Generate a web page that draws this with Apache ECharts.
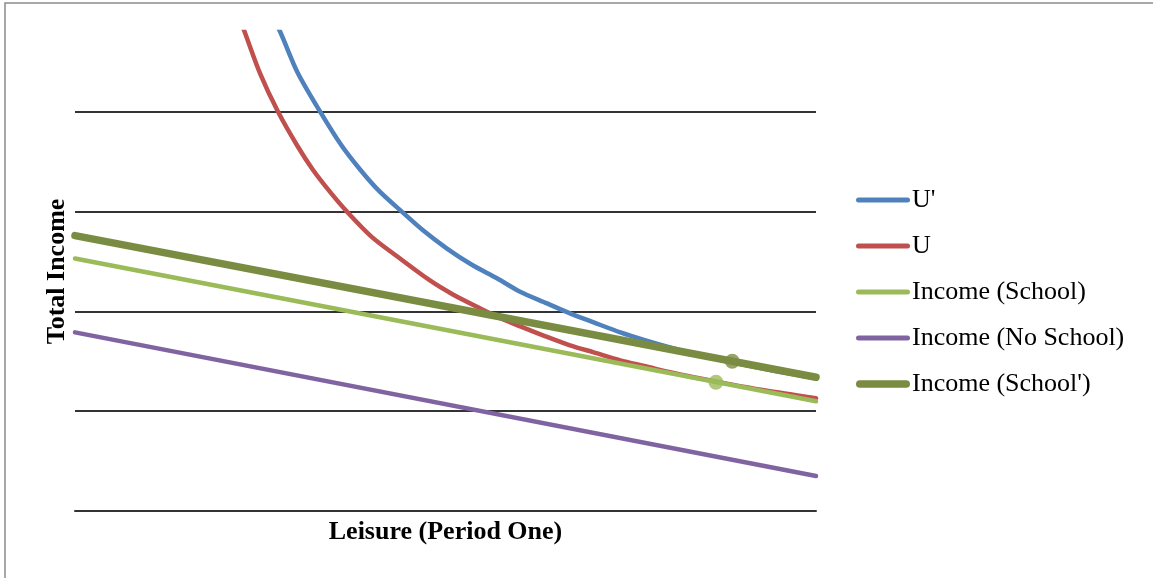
<!DOCTYPE html>
<html>
<head>
<meta charset="utf-8">
<title>Leisure vs Total Income</title>
<script src="https://cdn.jsdelivr.net/npm/echarts@6/dist/echarts.min.js"></script>
<style>
  html, body { margin: 0; padding: 0; background: #ffffff; }
  #chart { width: 1153px; height: 578px; }
</style>
</head>
<body>
<div id="chart"></div>
<script>
// Indifference curves and budget lines: [leisure, total income]
const uPrime = [
  [2.63, 5.00], [2.77, 4.80], [3.00, 4.40], [3.31, 4.00], [3.60, 3.66],
  [3.85, 3.42], [4.10, 3.21], [4.41, 3.00], [4.70, 2.81], [5.02, 2.63],
  [5.35, 2.47], [5.70, 2.33], [6.00, 2.20], [6.37, 2.08], [6.68, 1.98],
  [7.00, 1.89], [7.36, 1.79], [7.70, 1.71], [8.03, 1.64], [8.45, 1.56],
  [8.87, 1.49], [9.40, 1.41], [10.00, 1.33]
];
const u = [
  [2.19, 5.00], [2.29, 4.80], [2.50, 4.38], [2.74, 4.00], [3.00, 3.66],
  [3.21, 3.42], [3.45, 3.19], [3.67, 3.00], [4.00, 2.75], [4.35, 2.55],
  [4.79, 2.31], [5.10, 2.17], [5.47, 2.03], [5.75, 1.93], [6.01, 1.85],
  [6.35, 1.75], [6.68, 1.66], [7.00, 1.59], [7.36, 1.51], [7.70, 1.45],
  [8.03, 1.39], [8.35, 1.34], [8.70, 1.29], [9.30, 1.21], [10.00, 1.13]
];
const incomeSchool = [[0, 2.53], [10, 1.10]];
const incomeNoSchool = [[0, 1.79], [10, 0.35]];
const incomeSchoolPrime = [[0, 2.76], [10, 1.34]];

// Tangency points
const pointSchool = [[8.65, 1.29]];
const pointSchoolPrime = [[8.87, 1.50]];

const seriesNames = ["U'", 'U', 'Income (School)', 'Income (No School)', "Income (School')"];
const colors = ['#4F81BD', '#C0504D', '#9BBB59', '#8064A2', '#7A8C42'];

const serif = '"Liberation Serif", "Times New Roman", serif';
const gridColor = '#333333';

// Legend swatches: rounded bars inside a fixed 54x8 box
const thinIcon = 'path://M0,0 M54,8 M2.5,1.5 L51.5,1.5 A2.5,2.5 0 0 1 51.5,6.5 L2.5,6.5 A2.5,2.5 0 0 1 2.5,1.5 Z';
const thickIcon = 'path://M0,0 M54,8 M3.8,0.2 L50.2,0.2 A3.8,3.8 0 0 1 50.2,7.8 L3.8,7.8 A3.8,3.8 0 0 1 3.8,0.2 Z';

const chart = echarts.init(document.getElementById('chart'), null, { renderer: 'canvas' });

function lineSeries(name, data, color, width, smooth) {
  return {
    name: name,
    type: 'line',
    data: data,
    smooth: smooth,
    symbol: 'none',
    clip: true,
    color: color,
    lineStyle: { color: color, width: width, cap: 'round', join: 'round' },
    itemStyle: { color: color },
    emphasis: { disabled: true },
    animation: false
  };
}

chart.setOption({
  backgroundColor: '#ffffff',
  animation: false,
  graphic: [{
    type: 'rect',
    shape: { x: 5, y: 3, width: 1200, height: 700 },
    style: { fill: 'none', stroke: '#8c8c8c', lineWidth: 1.5 },
    silent: true,
    z: -10
  }],
  grid: { left: 75, right: 337, top: 32, bottom: 67, containLabel: false },
  legend: {
    orient: 'vertical',
    left: 856,
    top: 187,
    padding: 0,
    itemWidth: 54,
    itemHeight: 8,
    itemGap: 20,
    selectedMode: false,
    textStyle: { fontFamily: serif, fontSize: 26, color: '#000000', lineHeight: 26, padding: [0, 0, 0, -3] },
    data: [
      { name: seriesNames[0], icon: thinIcon },
      { name: seriesNames[1], icon: thinIcon },
      { name: seriesNames[2], icon: thinIcon },
      { name: seriesNames[3], icon: thinIcon },
      { name: seriesNames[4], icon: thickIcon }
    ]
  },
  xAxis: {
    type: 'value',
    min: 0,
    max: 10,
    name: 'Leisure (Period One)',
    nameLocation: 'middle',
    nameGap: 8,
    nameTextStyle: { fontFamily: serif, fontSize: 26, fontWeight: 'bold', color: '#000000', verticalAlign: 'top' },
    axisLine: { show: true, lineStyle: { color: gridColor, width: 2 } },
    axisTick: { show: false },
    axisLabel: { show: false },
    splitLine: { show: false }
  },
  yAxis: {
    type: 'value',
    min: 0,
    max: 4.8,
    interval: 1,
    name: 'Total Income',
    nameLocation: 'middle',
    nameRotate: 90,
    nameGap: 5,
    nameTextStyle: { fontFamily: serif, fontSize: 26, fontWeight: 'bold', color: '#000000' },
    axisLine: { show: false },
    axisTick: { show: false },
    axisLabel: { show: false },
    splitLine: { show: true, showMaxLine: false, lineStyle: { color: gridColor, width: 2 } }
  },
  series: [
    lineSeries(seriesNames[0], uPrime, colors[0], 4.5, 0.3),
    lineSeries(seriesNames[1], u, colors[1], 4.5, 0.3),
    lineSeries(seriesNames[2], incomeSchool, colors[2], 4.5, false),
    lineSeries(seriesNames[3], incomeNoSchool, colors[3], 4.5, false),
    lineSeries(seriesNames[4], incomeSchoolPrime, colors[4], 7.5, false),
    {
      name: 'School optimum',
      type: 'scatter',
      data: pointSchool,
      symbol: 'circle',
      symbolSize: 15,
      itemStyle: { color: colors[2] },
      emphasis: { disabled: true },
      z: 3
    },
    {
      name: "School' optimum",
      type: 'scatter',
      data: pointSchoolPrime,
      symbol: 'circle',
      symbolSize: 15,
      itemStyle: { color: colors[4] },
      emphasis: { disabled: true },
      z: 3
    }
  ]
});
</script>
</body>
</html>
